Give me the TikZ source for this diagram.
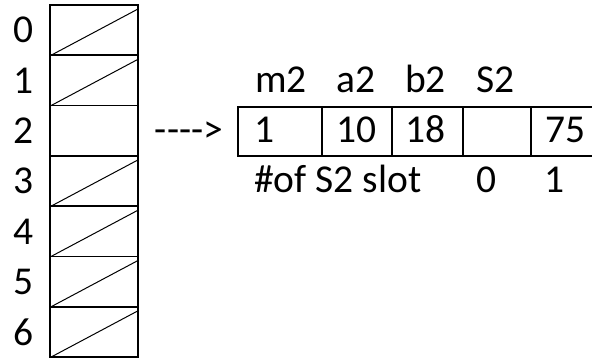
\documentclass[tikz,border=0pt]{standalone}
\usepackage{fontspec}
\setmainfont{Carlito}
\usetikzlibrary{positioning}

\newcommand{\dsh}{-\kern0pt}

\begin{document}
\begin{tikzpicture}[x=1pt, y=-1pt, font=\fontsize{39.5}{42}\selectfont,
    slot/.style={draw, line width=1.8pt, minimum width=88pt, minimum height=50.3pt, inner sep=0pt, outer sep=0pt},
    field/.style={draw, line width=1.8pt, minimum height=49pt, inner sep=0pt, outer sep=0pt},
    slash/.style={line width=1pt},
    txt/.style={inner sep=0pt, anchor=base west}]
    \useasboundingbox (0,0) rectangle (592,358);

    % hash table
    \foreach \i in {0,...,6} {
        \node[slot] (s\i) at (94, {30.15+50.3*\i}) {};
        \node[inner sep=0pt] (n\i) at (24, {30.15+50.3*\i}) {\i};
    }
    \foreach \i in {0,1,3,4,5,6}
        \draw[slash] ([xshift=1pt]s\i.south west) -- ([yshift=-4pt]s\i.north east);

    \node[inner sep=0pt] (arr) at (189,132) {\dsh\dsh\dsh\dsh>};

    % record of slot 2
    \node[field, minimum width=84pt] (fm) at (280,131.5) {};
    \node[field, minimum width=70pt, right=0pt of fm] (fa) {};
    \node[field, minimum width=71pt, right=0pt of fa] (fb) {};
    \node[field, minimum width=68pt, right=0pt of fb] (fs) {};
    \node[field, minimum width=90pt, right=0pt of fs] (fv) {};

    \foreach \name/\x/\t in {hm/255/m2, ha/336/a2, hb/405/b2, hs/476/S2}
        \node[txt] (\name) at (\x,93) {\t};
    \foreach \name/\x/\t in {vm/254/1, va/336/10, vb/405/18, vv/545/75}
        \node[txt] (\name) at (\x,143) {\t};
    \foreach \name/\x/\t in {cnt/254/\#of S2 slot, c0/476/0, c1/544/1}
        \node[txt] (\name) at (\x,193) {\t};
\end{tikzpicture}
\end{document}
